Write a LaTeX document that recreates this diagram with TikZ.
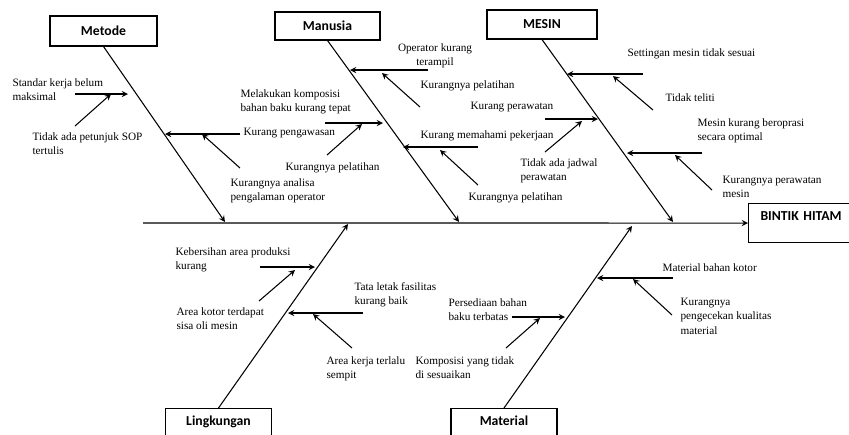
\documentclass[tikz,border=0pt]{standalone}
\usepackage{fontspec}
\setmainfont{Liberation Serif}
\newfontfamily\boxfont{Carlito}
\begin{document}
\begin{tikzpicture}[>=stealth,x=0.02cm,y=-0.02cm,line width=0.6pt,
	cause/.style={font=\fontsize{6.4}{8.3}\selectfont,align=left,anchor=base west,inner sep=0pt},
	catbox/.style={draw,font=\boxfont\bfseries\fontsize{7.8}{9}\selectfont,inner sep=0pt},
	lowbox/.style={catbox,anchor=north,minimum width=2.12cm,inner ysep=0.16cm,text height=0.18cm,text depth=0.4cm}]
		\useasboundingbox (0,0) rectangle (849,434);
		% kotak kategori
		\node[catbox,minimum width=2.14cm,minimum height=0.6cm] (metode) at (103.5,31) {Metode};
		\node[catbox,minimum width=2.1cm,minimum height=0.56cm] (manusia) at (327.5,26) {Manusia};
		\node[catbox,minimum width=2.2cm,minimum height=0.58cm] (mesin) at (542,24.5) {MESIN};
		\node[lowbox] (lingkungan) at (218.5,408) {Lingkungan};
		\node[lowbox] (material) at (504,408) {Material};
		\node[catbox,anchor=north west,inner xsep=0.24cm,inner ysep=0.16cm,text width=2.2cm,text height=0.18cm,text depth=0.28cm] (bintik) at (748,203) {BINTIK HITAM};
		% tulang utama
		\coordinate (tail) at (143,223);
		\coordinate (tmetode) at (225,222);
		\coordinate (tmanusia) at (459,222);
		\coordinate (tmesin) at (673,222);
		\coordinate (tlingkungan) at (348,224);
		\coordinate (tmaterial) at (632,226);
		\draw[->] (tail) -- (bintik.west);
		\draw[->] (metode.south) -- (tmetode);
		\draw[->] (manusia.south) -- (tmanusia);
		\draw[->] (mesin.south) -- (tmesin);
		\draw[->] (lingkungan.north) -- (tlingkungan);
		\draw[->] (material.north) -- (tmaterial);
		% Metode (base = baris terakhir)
		\node[cause] (standar) at (12,100.6) {Standar kerja belum\\maksimal};
		\node[cause] (sop) at (32,154.6) {Tidak ada petunjuk SOP\\tertulis};
		\node[cause] (pengawasan) at (243,135) {Kurang pengawasan};
		\node[cause] (analisa) at (230,200.6) {Kurangnya analisa\\pengalaman operator};
		\draw[->] (75,94) -- (128,94);
		\draw[->] (75,126) -- (111,94);
		\draw[->] (240,134) -- (165,134);
		\draw[->] (240,168) -- (202,134);
		% Manusia
		\node[cause,align=center,anchor=base] (operator) at (435,65.6) {Operator kurang\\terampil};
		\node[cause] (pelatihanA) at (420,88) {Kurangnya pelatihan};
		\node[cause] (komposisi) at (240,111.6) {Melakukan komposisi\\bahan baku kurang tepat};
		\node[cause] (pelatihanB) at (285,170) {Kurangnya pelatihan};
		\node[cause] (memahami) at (420,138) {Kurang memahami pekerjaan};
		\node[cause] (pelatihanC) at (468,200) {Kurangnya pelatihan};
		\draw[->] (428,70) -- (350,70);
		\draw[->] (420,107) -- (382,73);
		\draw[->] (325,123) -- (383,123);
		\draw[->] (327,155) -- (362,124);
		\draw[->] (478,147) -- (403,147);
		\draw[->] (478,185) -- (440,150);
		% Mesin
		\node[cause] (settingan) at (627,56) {Settingan mesin tidak sesuai};
		\node[cause] (teliti) at (665,101) {Tidak teliti};
		\node[cause] (perawatan) at (470,109) {Kurang perawatan};
		\node[cause] (jadwal) at (520,180.6) {Tidak ada jadwal\\perawatan};
		\node[cause] (optimal) at (697,140.6) {Mesin kurang beroprasi\\secara optimal};
		\node[cause] (rawatmesin) at (722,197.6) {Kurangnya perawatan\\mesin};
		\draw[->] (643,74) -- (567,74);
		\draw[->] (653,110) -- (613,76);
		\draw[->] (545,119) -- (598,119);
		\draw[->] (545,152) -- (582,121);
		\draw[->] (702,153) -- (627,153);
		\draw[->] (712,190) -- (675,155);
		% Lingkungan
		\node[cause] (kebersihan) at (175,269.6) {Kebersihan area produksi\\kurang};
		\node[cause] (kotor) at (176,329.6) {Area kotor terdapat\\sisa oli mesin};
		\node[cause] (tataletak) at (354,304.6) {Tata letak fasilitas\\kurang baik};
		\node[cause] (sempit) at (326,378.6) {Area kerja terlalu\\sempit};
		\draw[->] (260,267) -- (315,267);
		\draw[->] (259,301) -- (295,270);
		\draw[->] (363,313) -- (288,313);
		\draw[->] (352,348) -- (313,314);
		% Material
		\node[cause] (bahankotor) at (662,271) {Material bahan kotor};
		\node[cause] (pengecekan) at (680,334.3) {Kurangnya\\pengecekan kualitas\\material};
		\node[cause] (persediaan) at (448,320.6) {Persediaan bahan\\baku terbatas};
		\node[cause] (tidaksesuai) at (415,378.6) {Komposisi yang tidak\\di sesuaikan};
		\draw[->] (673,278) -- (597,278);
		\draw[->] (672,315) -- (633,279);
		\draw[->] (512,317) -- (565,317);
		\draw[->] (506,348) -- (540,318);
		\end{tikzpicture}
\end{document}
